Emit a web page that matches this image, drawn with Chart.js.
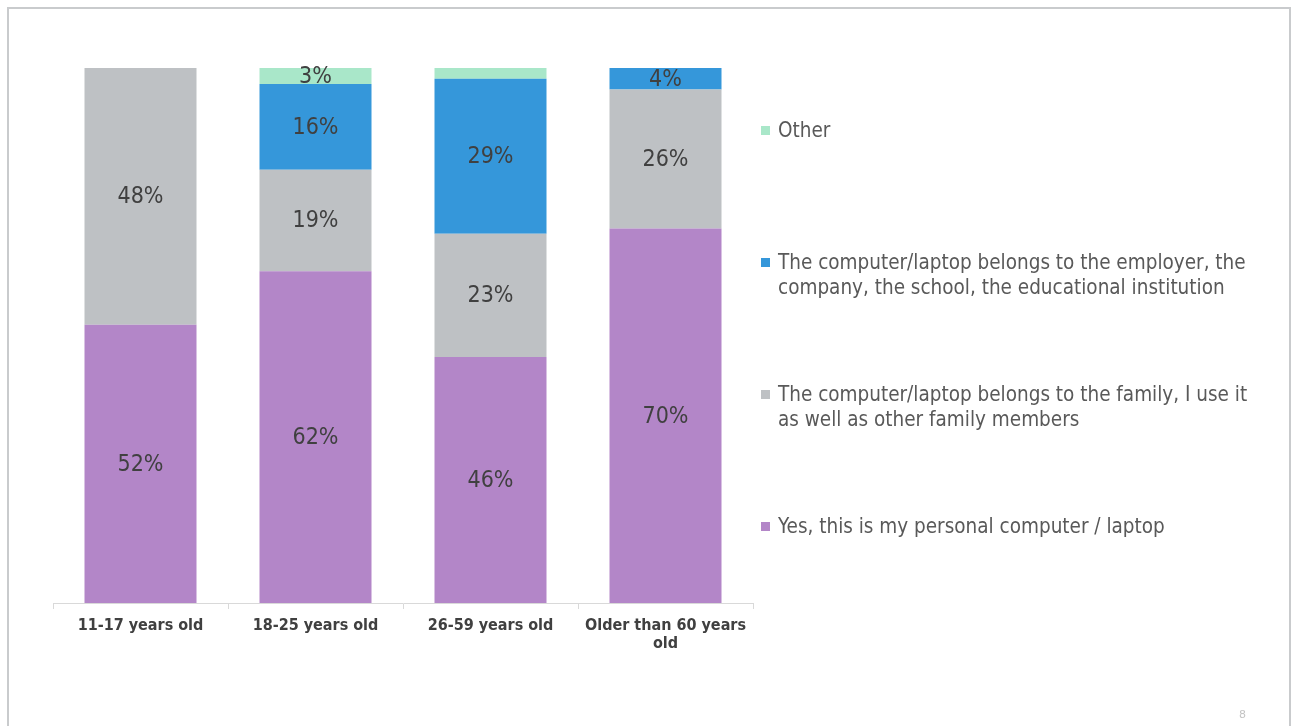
<!DOCTYPE html>
<html>
<head>
<meta charset="utf-8">
<script src="https://cdn.jsdelivr.net/npm/chart.js@4.4.1/dist/chart.umd.min.js"></script>
<style>
  html, body { margin: 0; padding: 0; background: #fff; }
  body { width: 1301px; height: 726px; position: relative; overflow: hidden; }
  #frame {
    position: absolute; left: 7px; top: 7px; width: 1284px; height: 740px;
    border: 2px solid #c9cbcd; box-sizing: border-box;
  }
  #wrap { position: absolute; left: 0; top: 0; width: 1301px; height: 726px; }
  #legend {
    position: absolute; left: 761px; top: 118px; width: 530px;
    font-family: "DejaVu Sans Condensed", "DejaVu Sans", sans-serif;
    font-size: 20.5px; line-height: 25px; color: #595959; white-space: nowrap;
  }
  .item { position: relative; height: 132px; padding-left: 17px; }
  .box { position: absolute; left: 0; top: 8px; width: 9px; height: 9px; }
  #pageNo {
    position: absolute; left: 1239px; top: 708px;
    font-family: "DejaVu Sans", sans-serif; font-size: 11px; color: #c4c4c4;
  }
</style>
</head>
<body>
<div id="frame"></div>
<div id="wrap"><canvas id="chart" width="1301" height="726"></canvas></div>
<div id="legend"></div>
<div id="pageNo">8</div>
<script>
const ageGroups = ["11-17 years old", "18-25 years old", "26-59 years old", ["Older than 60 years", "old"]];

const seriesNames = [
  "Yes, this is my personal computer / laptop",
  "The computer/laptop belongs to the family, I use it as well as other family members",
  "The computer/laptop belongs to the employer, the company, the school, the educational institution",
  "Other"
];

const personal = [52, 62, 46, 70];
const family = [48, 19, 23, 26];
const employer = [0, 16, 29, 4];
const other = [0, 3, 2, 0];

const seriesColors = ["#b386c8", "#bec1c4", "#3597da", "#a9e7c9"];

// legend lines, top entry first (same order as stacking, reversed)
const legendLines = [
  ["Other"],
  ["The computer/laptop belongs to the employer, the", "company, the school, the educational institution"],
  ["The computer/laptop belongs to the family, I use it", "as well as other family members"],
  ["Yes, this is my personal computer / laptop"]
];

const allSeries = [personal, family, employer, other];

// percent labels in the middle of each segment
const segmentLabels = {
  id: "segmentLabels",
  afterDatasetsDraw(chart) {
    const ctx = chart.ctx;
    ctx.save();
    ctx.font = '23px "DejaVu Sans Condensed", "DejaVu Sans", sans-serif';
    ctx.fillStyle = "#404040";
    ctx.textAlign = "center";
    ctx.textBaseline = "middle";
    chart.data.datasets.forEach((ds, i) => {
      const meta = chart.getDatasetMeta(i);
      meta.data.forEach((bar, j) => {
        const v = ds.data[j];
        if (v < 3) return;
        const p = bar.getProps(["x", "y", "base"], true);
        ctx.fillText(v + "%", p.x, (p.y + p.base) / 2 + 1);
      });
    });
    ctx.restore();
  }
};

const chartConfig = {
  type: "bar",
  data: {
    labels: ageGroups,
    datasets: allSeries.map((vals, i) => ({
      label: seriesNames[i],
      data: vals,
      backgroundColor: seriesColors[i],
      borderWidth: 0,
      categoryPercentage: 1,
      barPercentage: 0.64
    }))
  },
  options: {
    responsive: false,
    animation: false,
    layout: { padding: { left: 53, right: 548, top: 68, bottom: 0 } },
    plugins: {
      legend: { display: false },
      tooltip: { enabled: false }
    },
    scales: {
      x: {
        stacked: true,
        afterFit(scale) { scale.height = 123; },
        grid: {
          offset: true,
          drawOnChartArea: false,
          drawTicks: true,
          tickLength: 6,
          color: "#d9d9d9"
        },
        border: { display: true, color: "#d9d9d9", width: 1 },
        ticks: {
          maxRotation: 0,
          autoSkip: false,
          padding: 8,
          color: "#404040",
          font: { family: '"DejaVu Sans Condensed", "DejaVu Sans", sans-serif', size: 16, weight: "bold", lineHeight: 1.12 }
        }
      },
      y: {
        stacked: true,
        display: false,
        min: 0,
        max: 100
      }
    }
  },
  plugins: [segmentLabels]
};

new Chart(document.getElementById("chart").getContext("2d"), chartConfig);

// right-hand legend
const legendEl = document.getElementById("legend");
legendLines.forEach((lines, k) => {
  const colorIdx = seriesColors.length - 1 - k;
  const item = document.createElement("div");
  item.className = "item";
  const box = document.createElement("span");
  box.className = "box";
  box.style.background = seriesColors[colorIdx];
  item.appendChild(box);
  lines.forEach(t => {
    const line = document.createElement("div");
    line.textContent = t;
    item.appendChild(line);
  });
  legendEl.appendChild(item);
});
</script>
</body>
</html>
